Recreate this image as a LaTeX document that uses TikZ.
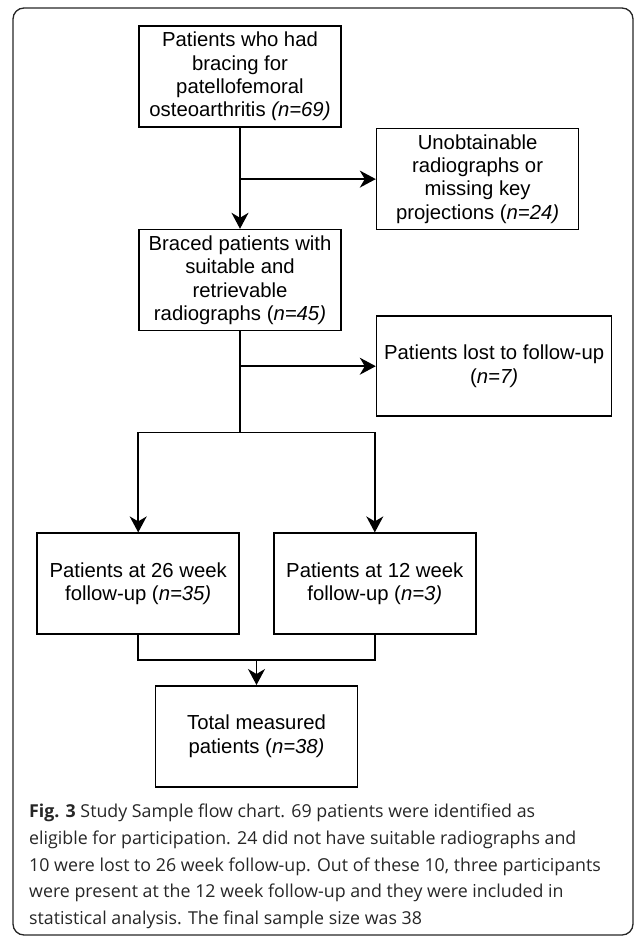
\documentclass[tikz,border=0pt]{standalone}
\usepackage{fontspec}
\setmainfont{Liberation Sans}
\newfontfamily\capfont{Open Sans}
\usepackage{tikz}
\usetikzlibrary{positioning, arrows.meta, calc}

\begin{document}
\begin{tikzpicture}[x=1pt, y=1pt,
                flowbox/.style={draw=black, line width=1.6pt, rectangle, minimum width=202pt, minimum height=101pt, align=center, inner sep=2pt, font=\fontsize{20.3}{23.3}\selectfont},
                edge/.style={line width=1.6pt},
                arrowedge/.style={edge, -{Stealth[length=16pt, width=17pt, inset=5pt]}},
                frame/.style={draw=black!85, line width=1.3pt, rounded corners=11pt},
                captext/.style={align=left, text=black!85, inner sep=0pt, font=\capfont\fontsize{17.8}{26.7}\selectfont}
            ]

            \useasboundingbox (0,0) rectangle (634,-936);
            \draw[frame] (13,-8) rectangle (633,-935);

            % Knoten
            \node[flowbox] (braced) at (240,-76.5) {Patients who had\\bracing for\\patellofemoral\\osteoarthritis \textit{(n=69)}};
            \node[flowbox, anchor=north west] (unobt) at ([xshift=34pt] braced.south east) {Unobtainable\\radiographs or\\missing key\\projections (\textit{n=24)}};
            \node[flowbox, below=101pt of braced] (suitable) {Braced patients with\\suitable and\\retrievable\\radiographs (\textit{n=45)}};
            \node[flowbox, minimum width=235pt, minimum height=100pt, anchor=north west] (lost) at ([xshift=34pt, yshift=16pt] suitable.south east) {Patients lost to follow-up\\(\textit{n=7)}};
            \coordinate (split) at ([yshift=-101pt] suitable.south);
            \node[flowbox, anchor=north east] (wk26) at ([yshift=-201pt] suitable.south) {Patients at 26 week\\follow-up (\textit{n=35)}};
            \node[flowbox, right=33pt of wk26] (wk12) {Patients at 12 week\\follow-up (\textit{n=3)}};
            \coordinate (join) at ($(wk26.south)!0.5!(wk12.south)+(0,-25)$);
            \node[flowbox, below=25pt of join] (total) {Total measured\\patients (\textit{n=38)}};
            \node[captext, anchor=north west] (caption) at (29,-804) {\textbf{Fig. 3} Study Sample flow chart. 69 patients were identified as\\eligible for participation. 24 did not have suitable radiographs and\\10 were lost to 26 week follow-up. Out of these 10, three participants\\were present at the 12 week follow-up and they were included in\\statistical analysis. The final sample size was 38};

            % Kanten zwischen Knoten
            \draw[arrowedge] (braced.south) -- (suitable.north);
            \draw[arrowedge] (braced.south |- unobt.west) -- (unobt.west);
            \draw[edge] (suitable.south) -- (split);
            \draw[arrowedge] (suitable.south |- lost.west) -- (lost.west);
            \draw[arrowedge] (split) -| (wk26.north);
            \draw[arrowedge] (split) -| (wk12.north);
            \draw[edge] (wk26.south) |- (join) -| (wk12.south);
            \draw[arrowedge] (join) -- (total.north);

        \end{tikzpicture}
\end{document}
